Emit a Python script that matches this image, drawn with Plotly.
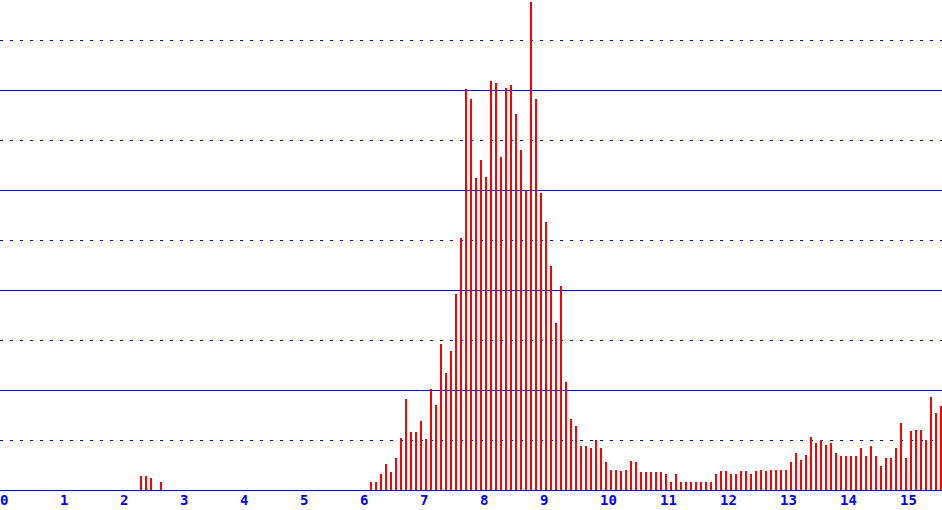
import plotly.graph_objects as go

# histogram bins are 1/12 wide, first bin starts at 0
bin_width = 1 / 12
first_bin = 28

# bar heights from bin 28 on (one grid step = 1)
heights = [
    0.28, 0.28, 0.25, 0.0, 0.16,
    0, 0, 0, 0, 0, 0, 0, 0, 0, 0,
    0, 0, 0, 0, 0, 0, 0, 0, 0, 0,
    0, 0, 0, 0, 0, 0, 0, 0, 0, 0,
    0, 0, 0, 0, 0, 0, 0, 0, 0, 0,
    0,
    0.16, 0.16, 0.32, 0.52, 0.36, 0.64, 1.04, 1.82, 1.16, 1.16,
    1.38, 1.02, 2.02, 1.70, 2.92, 2.34, 2.78, 3.92, 5.04, 8.02,
    7.82, 6.24, 6.60, 6.26, 8.18, 8.14, 6.66, 8.04, 8.10, 7.52,
    6.80, 6.00, 9.76, 7.82, 5.94, 5.36, 4.48, 3.34, 4.08, 2.16,
    1.42, 1.28, 0.88, 0.88, 0.84, 1.00, 0.84, 0.56, 0.40, 0.40,
    0.38, 0.40, 0.58, 0.56, 0.36, 0.36, 0.36, 0.36, 0.36, 0.32,
    0.16, 0.32, 0.16, 0.16, 0.16, 0.16, 0.16, 0.16, 0.16, 0.32,
    0.38, 0.38, 0.32, 0.32, 0.38, 0.38, 0.32, 0.38, 0.40, 0.38,
    0.40, 0.40, 0.40, 0.40, 0.56, 0.74, 0.60, 0.70, 1.06, 0.94,
    1.00, 0.90, 0.94, 0.74, 0.68, 0.68, 0.68, 0.68, 0.84, 0.68,
    0.88, 0.68, 0.48, 0.64, 0.64, 0.84, 1.34, 0.64, 1.18, 1.20,
    1.20, 1.00, 1.86, 1.54, 1.68,
]

tick_values = list(range(0, 16))
tick_labels = [str(v) for v in tick_values]

xs = [(first_bin + i) * bin_width for i in range(len(heights))]

fig = go.Figure(go.Bar(
    x=xs,
    y=heights,
    width=1 / 30,
    offset=0,
    marker=dict(color='#ff0000', line=dict(width=0)),
    hoverinfo='skip',
))

# tick labels sit just right of each tick, like the original
for v, txt in zip(tick_values, tick_labels):
    fig.add_annotation(
        x=v, y=0, xref='x', yref='paper',
        text=txt, showarrow=False,
        xanchor='left', yanchor='top', xshift=-2, yshift=0,
        font=dict(family='DejaVu Sans Mono', size=14, color='#0000ff', weight='bold'),
    )

fig.update_layout(
    width=942,
    height=510,
    margin=dict(l=0, r=0, t=0, b=20, pad=0),
    plot_bgcolor='white',
    paper_bgcolor='white',
    showlegend=False,
    bargap=0,
    xaxis=dict(
        range=[0, 15.7],
        showticklabels=False,
        showgrid=False,
        zeroline=False,
        showline=True,
        linecolor='#0000ff',
        linewidth=1,
        ticks='',
        automargin=False,
        fixedrange=True,
    ),
    yaxis=dict(
        range=[0, 9.8],
        dtick=2,
        tick0=0,
        showticklabels=False,
        showgrid=True,
        gridcolor='#0000ff',
        gridwidth=1,
        zeroline=False,
        minor=dict(dtick=1, tick0=0, showgrid=True, gridcolor='#0000ff',
                   gridwidth=1, griddash='3px,7px'),
        automargin=False,
        fixedrange=True,
    ),
)

# drop the browser's default 8px page margin so the chart fills the window
fig.write_html("out.html", config={'displayModeBar': False},
               post_script="document.body.style.margin='0';document.body.style.overflow='hidden';")
